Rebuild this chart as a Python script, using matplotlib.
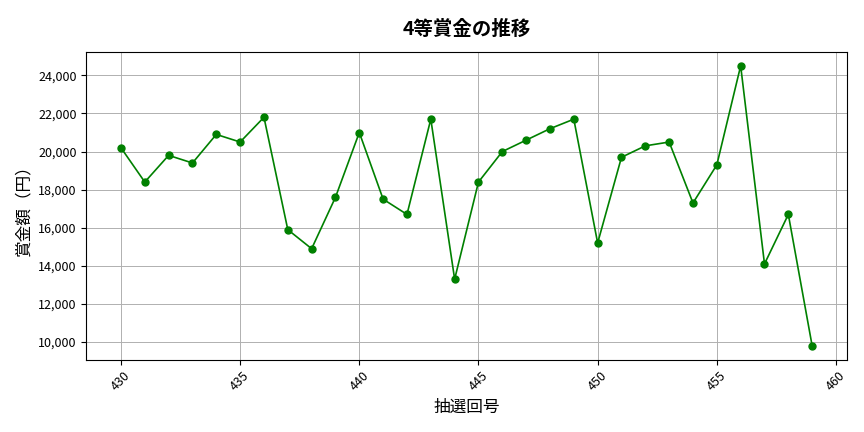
import matplotlib
matplotlib.use("Agg")
import matplotlib.pyplot as plt
from matplotlib.ticker import FuncFormatter

plt.rcParams['font.family'] = ['Noto Sans CJK JP', 'DejaVu Sans']

draws = list(range(430, 460))
prizes = [20200, 18400, 19800, 19400, 20900, 20500, 21800, 15900, 14900, 17600,
          21000, 17500, 16700, 21700, 13300, 18400, 20000, 20600, 21200, 21700,
          15200, 19700, 20300, 20500, 17300, 19300, 24500, 14100, 16700, 9800]

fig, ax = plt.subplots(figsize=(8.64, 4.32), dpi=100)
ax.plot(draws, prizes, color='green', marker='o', markersize=5, linewidth=1.2)
ax.set_title('4等賞金の推移', fontsize=14, fontweight='bold', pad=12)
ax.set_xlabel('抽選回号', fontsize=12)
ax.set_ylabel('賞金額（円）', fontsize=12)
ax.grid(True, color='#b0b0b0', linewidth=0.7)
ax.yaxis.set_major_formatter(FuncFormatter(lambda v, p: f'{int(v):,}'))
ax.set_xticks(range(430, 461, 5))
plt.setp(ax.get_xticklabels(), rotation=45)
ax.tick_params(labelsize=9)
fig.subplots_adjust(left=0.1, right=0.98, top=0.88, bottom=0.167)
fig.savefig('out.png')
